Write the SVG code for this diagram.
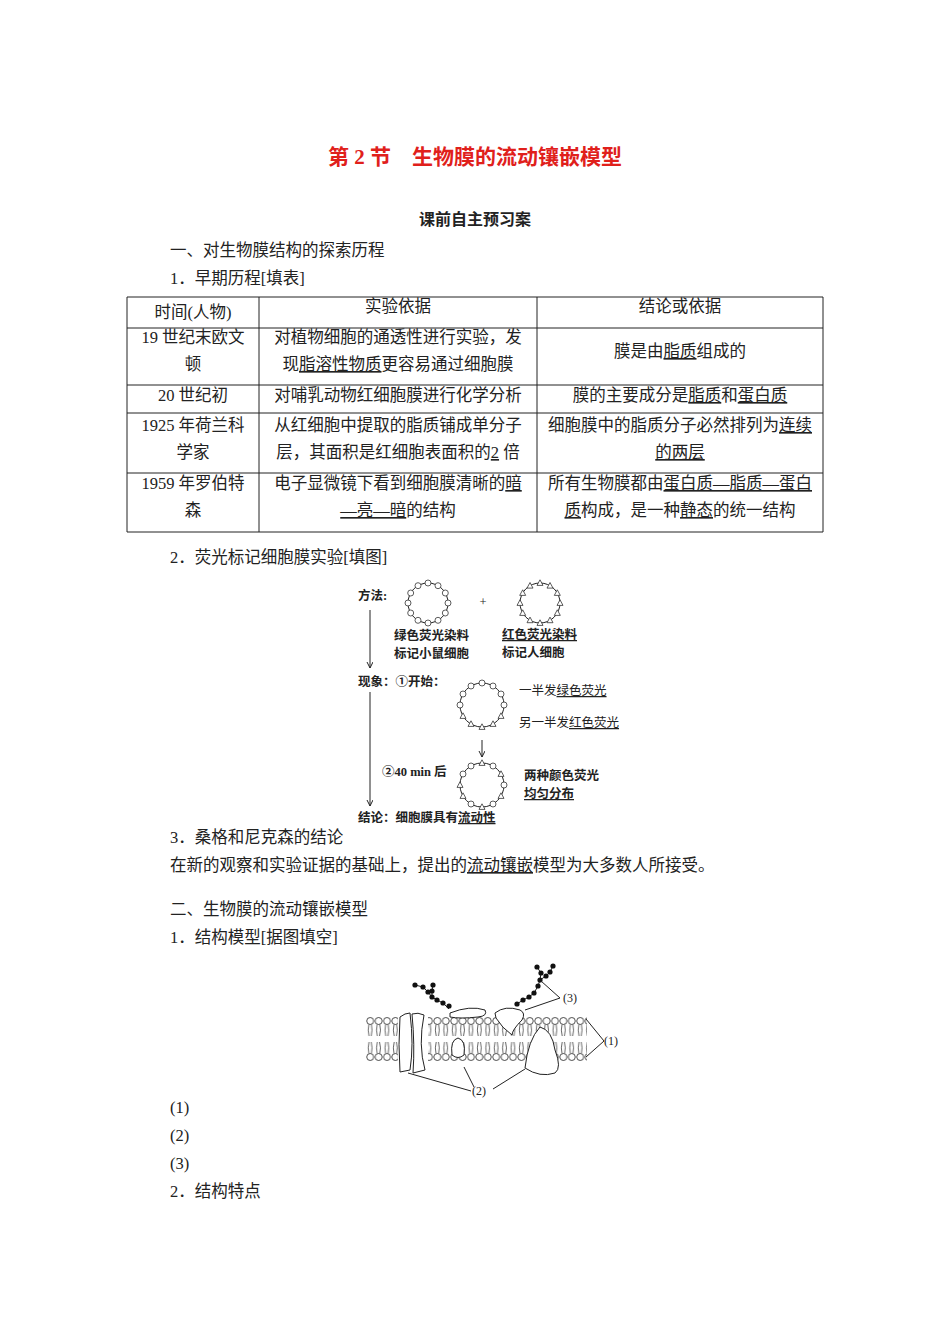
<svg xmlns="http://www.w3.org/2000/svg" xmlns:xlink="http://www.w3.org/1999/xlink" width="950" height="1344" viewBox="0 0 950 1344">
<style>
text{font-family:"Liberation Serif","Noto Sans CJK SC",serif;font-size:16.5px;fill:#222}
.u{text-decoration:underline}
.s{font-size:12.5px;font-weight:bold}
.n{font-weight:normal}
.c{text-anchor:middle}
.ln{stroke:#222;stroke-width:1;fill:none}
.pr{fill:#fff;stroke:#222;stroke-width:1}
</style>
<defs>
<circle id="g" r="3" fill="#fff" stroke="#333" stroke-width="0.8"/>
<path id="t" d="M0,-3.2 L3,2.4 L-3,2.4Z" fill="#fff" stroke="#333" stroke-width="0.8"/>
<circle id="d" r="2.6" fill="#111"/>
<pattern id="lip" x="366" y="1016" width="8.4" height="46" patternUnits="userSpaceOnUse">
<path d="M2.8,8.6 Q1.5,14 3,20 M5.4,8.6 Q6.8,14 5.2,20 M2.8,37.4 Q1.5,32 3,26 M5.4,37.4 Q6.8,32 5.2,26" fill="none" stroke="#222" stroke-width="0.7"/>
<circle cx="4.2" cy="5" r="3.5" fill="#fff" stroke="#222" stroke-width="0.8"/>
<circle cx="4.2" cy="41" r="3.5" fill="#fff" stroke="#222" stroke-width="0.8"/>
</pattern>
<marker id="ar" markerWidth="7" markerHeight="7" refX="6" refY="3" orient="auto" markerUnits="userSpaceOnUse"><path d="M0,0 L6,3 L0,6" fill="none" stroke="#222"/></marker>
</defs>
<rect width="950" height="1344" fill="#fff"/>
<text x="475" y="164" class="c" style="font-size:21px;font-weight:bold;fill:#e0201b">第 2 节　生物膜的流动镶嵌模型</text>
<text x="475" y="225" class="c" style="font-weight:bold;font-size:16px">课前自主预习案</text>
<text x="170" y="256">一、对生物膜结构的探索历程</text>
<text x="170" y="284">1．早期历程[填表]</text>
<g id="table">
<path class="ln" d="M127,297H823V532H127Z M127,328H823 M127,385H823 M127,413H823 M127,473H823 M259,297V532 M537,297V532"/>
<text x="193" y="318" class="c">时间(人物)</text>
<text x="398" y="312" class="c">实验依据</text>
<text x="680" y="312" class="c">结论或依据</text>
<text x="193" y="343" class="c">19 世纪末欧文</text>
<text x="193" y="370" class="c">顿</text>
<text x="398" y="343" class="c">对植物细胞的通透性进行实验，发</text>
<text x="398" y="370" class="c">现<tspan class="u">脂溶性物质</tspan>更容易通过细胞膜</text>
<text x="680" y="357" class="c">膜是由<tspan class="u">脂质</tspan>组成的</text>
<text x="193" y="401" class="c">20 世纪初</text>
<text x="398" y="401" class="c">对哺乳动物红细胞膜进行化学分析</text>
<text x="680" y="401" class="c">膜的主要成分是<tspan class="u">脂质</tspan>和<tspan class="u">蛋白质</tspan></text>
<text x="193" y="431" class="c">1925 年荷兰科</text>
<text x="193" y="458" class="c">学家</text>
<text x="398" y="431" class="c">从红细胞中提取的脂质铺成单分子</text>
<text x="398" y="458" class="c">层，其面积是红细胞表面积的<tspan class="u">2</tspan> 倍</text>
<text x="680" y="431" class="c">细胞膜中的脂质分子必然排列为<tspan class="u">连续</tspan></text>
<text x="680" y="458" class="c"><tspan class="u">的两层</tspan></text>
<text x="193" y="489" class="c">1959 年罗伯特</text>
<text x="193" y="516" class="c">森</text>
<text x="398" y="489" class="c">电子显微镜下看到细胞膜清晰的<tspan class="u">暗</tspan></text>
<text x="398" y="516" class="c"><tspan class="u">—亮—暗</tspan>的结构</text>
<text x="680" y="489" class="c">所有生物膜都由<tspan class="u">蛋白质—脂质—蛋白</tspan></text>
<text x="680" y="516" class="c"><tspan class="u">质</tspan>构成，是一种<tspan class="u">静态</tspan>的统一结构</text>
</g>
<text x="170" y="563">2．荧光标记细胞膜实验[填图]</text>
<g id="fluor">
<text x="358" y="600" class="s">方法:</text>
<line class="ln" x1="370" y1="610" x2="370" y2="668" marker-end="url(#ar)"/>
<line class="ln" x1="370" y1="692" x2="370" y2="806" marker-end="url(#ar)"/>
<g id="mouse" transform="translate(428,603)"><circle r="20" class="ln"/>
<use href="#g" x="20" y="0"/><use href="#g" x="17.3" y="10"/><use href="#g" x="10" y="17.3"/><use href="#g" x="0" y="20"/><use href="#g" x="-10" y="17.3"/><use href="#g" x="-17.3" y="10"/><use href="#g" x="-20" y="0"/><use href="#g" x="-17.3" y="-10"/><use href="#g" x="-10" y="-17.3"/><use href="#g" x="0" y="-20"/><use href="#g" x="10" y="-17.3"/><use href="#g" x="17.3" y="-10"/></g>
<text x="483" y="606" class="s c n">+</text>
<g id="human" transform="translate(540,603)"><circle r="20" class="ln"/>
<use href="#t" x="20" y="0"/><use href="#t" x="17.3" y="10"/><use href="#t" x="10" y="17.3"/><use href="#t" x="0" y="20"/><use href="#t" x="-10" y="17.3"/><use href="#t" x="-17.3" y="10"/><use href="#t" x="-20" y="0"/><use href="#t" x="-17.3" y="-10"/><use href="#t" x="-10" y="-17.3"/><use href="#t" x="0" y="-20"/><use href="#t" x="10" y="-17.3"/><use href="#t" x="17.3" y="-10"/></g>
<text x="394" y="640" class="s">绿色荧光染料</text>
<text x="394" y="658" class="s">标记小鼠细胞</text>
<text x="502" y="639" class="s u">红色荧光染料</text>
<text x="502" y="657" class="s">标记人细胞</text>
<text x="358" y="686" class="s">现象：①开始：</text>
<g id="start" transform="translate(482,705)"><circle r="22" class="ln"/>
<use href="#g" x="22" y="0"/><use href="#g" x="19" y="-11"/><use href="#g" x="11" y="-19"/><use href="#g" x="0" y="-22"/><use href="#g" x="-11" y="-19"/><use href="#g" x="-19" y="-11"/><use href="#g" x="-22" y="0"/>
<use href="#t" x="19" y="11"/><use href="#t" x="11" y="19"/><use href="#t" x="0" y="22"/><use href="#t" x="-11" y="19"/><use href="#t" x="-19" y="11"/></g>
<text x="519" y="695" class="s n">一半发<tspan class="u">绿色荧光</tspan></text>
<text x="519" y="727" class="s n">另一半发<tspan class="u">红色荧光</tspan></text>
<line class="ln" x1="482" y1="740" x2="482" y2="757" marker-end="url(#ar)"/>
<text x="382" y="776" class="s">②40 min 后</text>
<g id="after" transform="translate(482,785)"><circle r="22" class="ln"/>
<use href="#g" x="22" y="0"/><use href="#t" x="19" y="-11"/><use href="#g" x="11" y="-19"/><use href="#t" x="0" y="-22"/><use href="#g" x="-11" y="-19"/><use href="#g" x="-19" y="-11"/><use href="#t" x="-22" y="0"/>
<use href="#t" x="19" y="11"/><use href="#g" x="11" y="19"/><use href="#t" x="0" y="22"/><use href="#g" x="-11" y="19"/><use href="#t" x="-19" y="11"/></g>
<text x="524" y="780" class="s">两种颜色荧光</text>
<text x="524" y="798" class="s u">均匀分布</text>
<text x="358" y="822" class="s">结论：细胞膜具有<tspan class="u">流动性</tspan></text>
</g>
<text x="170" y="843">3．桑格和尼克森的结论</text>
<text x="170" y="871">在新的观察和实验证据的基础上，提出的<tspan class="u">流动镶嵌</tspan>模型为大多数人所接受。</text>
<text x="170" y="915">二、生物膜的流动镶嵌模型</text>
<text x="170" y="943">1．结构模型[据图填空]</text>
<g id="membrane">
<rect x="366" y="1016" width="221" height="46" fill="url(#lip)"/>
<rect x="398" y="1008" width="30" height="70" fill="#fff"/>
<path class="pr" d="M400,1017 Q405,1013 410,1013 Q414,1045 410,1070 L400,1072 Q398,1045 400,1017Z"/>
<path class="pr" d="M412,1014 Q418,1012 424,1015 Q418,1045 425,1070 L413,1073 Q415,1045 412,1014Z"/>
<path class="pr" d="M450,1013 Q470,1005 485,1010 Q488,1016 478,1017 Q460,1019 450,1017Z"/>
<path class="pr" d="M495,1013 Q505,1005 520,1010 Q526,1013 522,1020 Q512,1030 512,1035 Q502,1028 496,1018Z"/>
<path class="pr" d="M452,1055 Q450,1040 458,1038 Q466,1040 464,1055 Q458,1060 452,1055Z"/>
<path class="pr" d="M525,1068 Q528,1040 540,1027 Q552,1030 555,1050 Q562,1068 555,1073 Q540,1078 525,1068Z"/>
<g>
<path class="ln" d="M415,985 L423,987 L428,992 L432,997 L437,1000 L443,1003 L449,1009 M433,985 L432,991 L432,997"/>
<use href="#d" x="415" y="985"/><use href="#d" x="423" y="987"/><use href="#d" x="428" y="992"/><use href="#d" x="432" y="997"/><use href="#d" x="437" y="1000"/><use href="#d" x="443" y="1003"/><use href="#d" x="449" y="1006"/><use href="#d" x="433" y="985"/><use href="#d" x="432" y="991"/>
<path class="ln" d="M517,1004 L523,1000 L529,997 L534,993 L538,986 L540,980 L541,973 L537,967 M540,980 L546,976 L550,972 L553,966"/>
<use href="#d" x="517" y="1004"/><use href="#d" x="523" y="1000"/><use href="#d" x="529" y="997"/><use href="#d" x="534" y="993"/><use href="#d" x="538" y="986"/><use href="#d" x="540" y="980"/><use href="#d" x="541" y="973"/><use href="#d" x="537" y="967"/><use href="#d" x="546" y="976"/><use href="#d" x="550" y="972"/><use href="#d" x="553" y="966"/>
</g>
<path class="ln" d="M541,981 L560,998 L525,1010 M586,1019 L604,1041 L586,1057 M408,1073 L471,1091 M464,1067 L474,1087 M525,1069 L493,1089"/>
<text x="563" y="1002" style="font-size:12px">(3)</text>
<text x="604" y="1045" style="font-size:12px">(1)</text>
<text x="472" y="1095" style="font-size:12px">(2)</text>
</g>
<text x="170" y="1113">(1)</text>
<text x="170" y="1141">(2)</text>
<text x="170" y="1169">(3)</text>
<text x="170" y="1197">2．结构特点</text>
</svg>
